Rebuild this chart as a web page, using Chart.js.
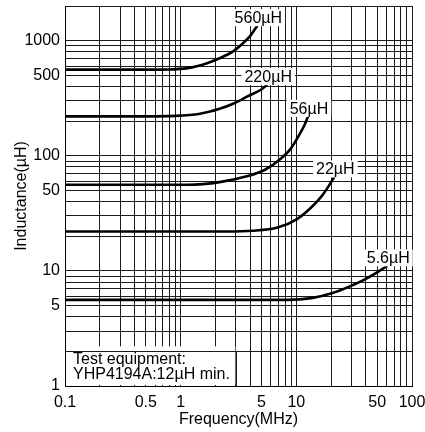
<!DOCTYPE html>
<html>
<head>
<meta charset="utf-8">
<script src="https://cdn.jsdelivr.net/npm/chart.js@4.4.1/dist/chart.umd.min.js"></script>
<style>
  html, body { margin: 0; padding: 0; background: #fff; }
  #wrap { width: 425px; height: 432px; }
</style>
</head>
<body>
<div id="wrap"><canvas id="chart" width="425" height="432"></canvas></div>
<script>
// ---- data (frequency in MHz, inductance in µH) ----
const seriesNames = ['560µH', '220µH', '56µH', '22µH', '5.6µH'];

const freq560 = [0.1, 0.5, 0.8, 1.15, 1.69, 2.17, 2.84, 3.44, 4.01, 4.6];
const ind560  = [560, 560, 562, 577, 637, 703, 807, 945, 1106, 1350];

const freq220 = [0.1, 0.5, 0.9, 1.47, 2.17, 2.84, 3.86, 5.06, 5.6];
const ind220  = [220, 220, 222, 232, 256, 283, 331, 380, 415];

const freq56 = [0.1, 0.5, 1.15, 2.17, 3.65, 5.36, 7.42, 8.99, 10.6, 11.8, 12.6];
const ind56  = [56, 56, 56, 59, 66, 75.6, 95, 116, 152, 186, 220];

const freq22 = [0.1, 1, 2.5, 4.15, 6.88, 10.15, 13.5, 16.7, 19.2, 21.3];
const ind22  = [22, 22, 22, 22.3, 23.8, 28.2, 35.7, 45.1, 55.3, 65.5];

const freq5 = [0.1, 1, 5, 8.4, 13.5, 20.6, 29.2, 38.8, 49.5, 61.1];
const ind5  = [5.6, 5.6, 5.6, 5.6, 5.8, 6.42, 7.36, 8.4, 9.65, 11.06];

const xTickLabels = [0.1, 0.5, 1, 5, 10, 50, 100];
const yTickLabels = [1, 5, 10, 50, 100, 500, 1000];
const noteLines = ['Test equipment:', 'YHP4194A:12µH min.'];

const FONT = "'Liberation Sans', Arial, sans-serif";

function toPoints(xs, ys) {
  return xs.map((x, i) => ({ x: x, y: ys[i] }));
}

// gridlines at every 1..9 step of each decade
function logGrid(minDecade, maxValue) {
  const out = [];
  for (let d = minDecade; d <= maxValue; d *= 10) {
    for (let k = 1; k <= 9; k++) {
      const v = Number((k * d).toPrecision(3));
      if (v <= maxValue) out.push({ value: v });
    }
  }
  return out;
}

const pairs = [[freq560, ind560], [freq220, ind220], [freq56, ind56], [freq22, ind22], [freq5, ind5]];
const datasets = pairs.map((p, i) => ({
  label: seriesNames[i],
  data: toPoints(p[0], p[1]),
  borderColor: '#000',
  borderWidth: 2.6,
  pointRadius: 0,
  fill: false,
  cubicInterpolationMode: 'monotone'
}));

const labelsPlugin = {
  id: 'labels',
  afterDatasetsDraw(chart) {
    const ctx = chart.ctx;
    const xs = chart.scales.x, ys = chart.scales.y;
    ctx.save();
    ctx.font = '16px ' + FONT;

    // note box in the lower left corner
    const left = chart.chartArea.left, bottom = chart.chartArea.bottom;
    const y2 = ys.getPixelForValue(2), x3 = xs.getPixelForValue(3);
    ctx.fillStyle = '#fff';
    ctx.fillRect(left + 1, y2 - 5, x3 - left - 1.5, bottom - y2 + 4);
    ctx.strokeStyle = '#1a1a1a';
    ctx.lineWidth = 1;
    ctx.beginPath();
    ctx.moveTo(left, Math.round(y2) + 0.5);
    ctx.lineTo(Math.round(x3) + 0.5, Math.round(y2) + 0.5);
    ctx.lineTo(Math.round(x3) + 0.5, bottom);
    ctx.stroke();
    ctx.fillStyle = '#000';
    ctx.textAlign = 'left';
    ctx.textBaseline = 'alphabetic';
    noteLines.forEach((t, i) => ctx.fillText(t, left + 8, y2 + 12.6 + i * 15));

    // series names at the end of each curve
    ctx.textAlign = 'center';
    chart.data.datasets.forEach((ds, i) => {
      const pts = chart.getDatasetMeta(i).data;
      const end = pts[pts.length - 1];
      const cx = end.x + 1, base = end.y - 2.5;
      const w = ctx.measureText(ds.label).width;
      ctx.fillStyle = '#fff';
      ctx.fillRect(cx - w / 2 - 3, base - 14, w + 6, 17);
      ctx.fillStyle = '#000';
      ctx.fillText(ds.label, cx, base);
    });
    ctx.restore();
  }
};

new Chart(document.getElementById('chart'), {
  type: 'line',
  data: { datasets: datasets },
  plugins: [labelsPlugin],
  options: {
    responsive: false,
    animation: false,
    layout: { padding: { left: 0, right: 13, top: 6, bottom: 0 } },
    plugins: { legend: { display: false }, tooltip: { enabled: false } },
    scales: {
      x: {
        type: 'logarithmic',
        min: 0.1,
        max: 100,
        afterBuildTicks(scale) { scale.ticks = logGrid(0.1, 100); },
        afterFit(scale) {
          scale.height = 46;
          scale.paddingLeft = 0;
          scale.paddingRight = 0;
        },
        grid: { color: '#1a1a1a', lineWidth: 1, drawTicks: false },
        border: { color: '#000', width: 1 },
        ticks: {
          autoSkip: false,
          maxRotation: 0,
          padding: 7,
          color: '#000',
          font: { family: FONT, size: 16 },
          callback: (v) => xTickLabels.includes(v) ? String(v) : ''
        },
        title: {
          display: true,
          text: 'Frequency(MHz)',
          color: '#000',
          font: { family: FONT, size: 16 },
          padding: { top: 0, bottom: 2.6 }
        }
      },
      y: {
        type: 'logarithmic',
        min: 1,
        max: 2000,
        afterBuildTicks(scale) { scale.ticks = logGrid(1, 2000); },
        afterFit(scale) {
          scale.width = 65;
          scale.paddingTop = 0;
          scale.paddingBottom = 0;
        },
        grid: { color: '#1a1a1a', lineWidth: 1, drawTicks: false },
        border: { color: '#000', width: 1 },
        ticks: {
          autoSkip: false,
          padding: 5,
          color: '#000',
          font: { family: FONT, size: 16 },
          callback: (v) => yTickLabels.includes(v) ? String(v) : ''
        },
        title: {
          display: true,
          text: 'Inductance(µH)',
          color: '#000',
          font: { family: FONT, size: 16 },
          padding: { top: 12, bottom: 0 }
        }
      }
    }
  }
});
</script>
</body>
</html>
